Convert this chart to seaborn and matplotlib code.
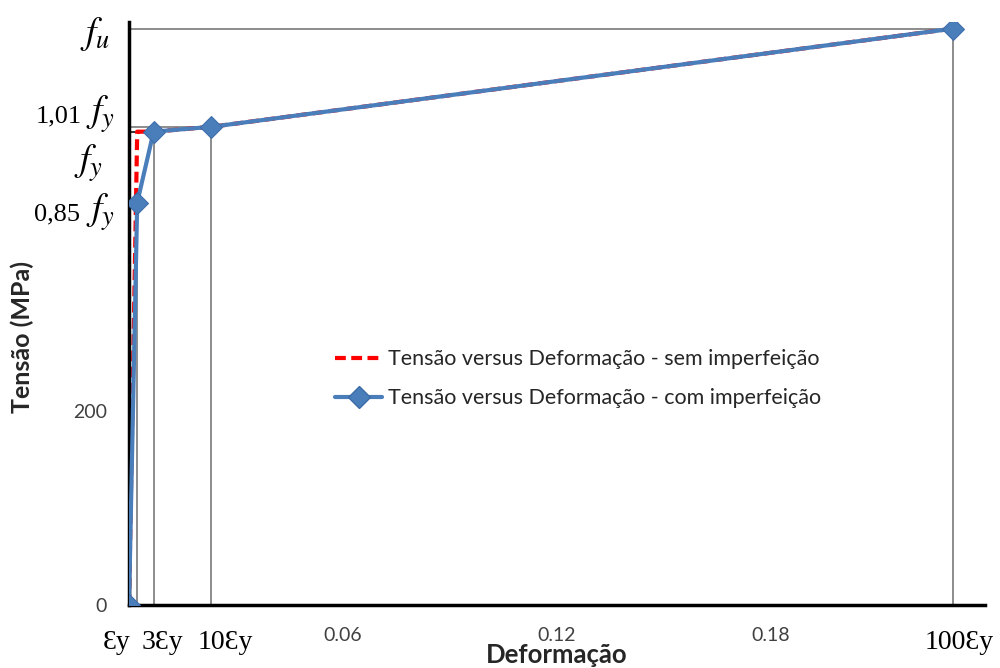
import matplotlib
matplotlib.use("Agg")
import matplotlib.pyplot as plt
import matplotlib.transforms as mtransforms
from matplotlib.lines import Line2D
import seaborn as sns
import pandas as pd

# Dados (deformação adimensional, tensão em MPa)
deformacao = [0.0, 0.0023, 0.0069, 0.0231, 0.231]
tensao_sem = [0.0, 487, 487, 492, 593]
tensao_com = [0.0, 414, 487, 492, 593]

serie_sem = "Tensão versus Deformação - sem imperfeição"
serie_com = "Tensão versus Deformação - com imperfeição"

x_ticks = [0.06, 0.12, 0.18]
x_tick_labels = ["0.06", "0.12", "0.18"]
y_ticks = [0, 200, 400, 600]
y_tick_labels = ["0", "200", "", ""]

# rótulos especiais dos eixos (no lugar de 0 / 400 / 600 etc.)
rotulos_x = ["Ɛy", "3Ɛy", "10Ɛy", "100Ɛy"]
rotulos_x_pos = [-0.0034, 0.0094, 0.0269, 0.2327]
rotulos_y_num = ["", "1,01", "", "0,85"]
rotulos_y_f = [r"$f_u$", r"$f_y$", r"$f_y$", r"$f_y$"]
rotulos_y_pos = [588, 505, 455, 404]
rotulos_y_dx = [-0.0222, -0.0164, -0.0304, -0.0164]
rotulos_y_num_dx = [0, -0.0549, 0, -0.0572]

sns.set_style("white")
plt.rcParams["font.family"] = ["Lato", "DejaVu Sans"]
plt.rcParams["mathtext.fontset"] = "stix"
serif = ["Liberation Serif", "DejaVu Serif"]

df = pd.DataFrame({"x": deformacao, "sem": tensao_sem, "com": tensao_com})

fig = plt.figure(figsize=(10, 6.68), dpi=100)
ax = fig.add_axes([0.129, 0.0943, 0.856, 0.873])

cinza = "#6e6e6e"
azul = "#4a7ebb"
vermelho = "#ff0000"
tracejado = (0, (2.6, 1.3))

# linhas de referência
ref_lw = 1.1
for xv, yv in zip(deformacao[1:], tensao_com[1:]):
    ax.plot([xv, xv], [0, yv], color=cinza, lw=ref_lw, zorder=1)
ax.plot([0, deformacao[2]], [tensao_sem[2], tensao_sem[2]], color="#333333", lw=1.4, zorder=1)
ax.plot([0, deformacao[3]], [tensao_com[3], tensao_com[3]], color=cinza, lw=ref_lw, zorder=1)
ax.plot([0, deformacao[4]], [tensao_com[4], tensao_com[4]], color=cinza, lw=ref_lw, zorder=1)

sns.lineplot(data=df, x="x", y="sem", ax=ax, color=vermelho, lw=3,
             linestyle=tracejado, sort=False, zorder=2)
sns.lineplot(data=df, x="x", y="com", ax=ax, color=azul, lw=3,
             marker="D", markersize=11, markeredgecolor="#3c6ca8", sort=False, zorder=3)

ax.set_xlim(0, 0.24)
ax.set_ylim(0, 600)
ax.set_xticks(x_ticks)
ax.set_xticklabels(x_tick_labels, fontsize=14, color="#404040")
ax.set_yticks(y_ticks)
ax.set_yticklabels(y_tick_labels, fontsize=14, color="#404040")
ax.tick_params(axis="both", direction="out", length=6, width=2, color="black")
ax.tick_params(axis="x", pad=10)
ax.tick_params(axis="y", pad=10)

for s in ["top", "right"]:
    ax.spines[s].set_visible(False)
for s in ["left", "bottom"]:
    ax.spines[s].set_linewidth(2.5)
    ax.spines[s].set_color("black")

tx = mtransforms.blended_transform_factory(ax.transData, ax.transAxes)
for lab, xp in zip(rotulos_x, rotulos_x_pos):
    ax.text(xp, -0.065, lab, transform=tx, ha="center", va="center",
            fontsize=20, family=serif, color="black")

ty = mtransforms.blended_transform_factory(ax.transAxes, ax.transData)
for num, lab, yp, dx, ndx in zip(rotulos_y_num, rotulos_y_f, rotulos_y_pos,
                                 rotulos_y_dx, rotulos_y_num_dx):
    ax.text(dx, yp, lab, transform=ty, ha="right", va="center", fontsize=27, color="black")
    if num:
        ax.text(ndx, yp - 2, num, transform=ty, ha="right", va="center",
                fontsize=19, family=serif, color="black")

ax.set_xlabel("")
ax.set_ylabel("")
ax.text(0.5, -0.1, "Deformação", transform=ax.transAxes, ha="center", va="baseline",
        fontsize=18.5, fontweight="bold")
ax.text(-0.125, 0.46, "Tensão (MPa)", transform=ax.transAxes, ha="center", va="center",
        rotation=90, fontsize=18, fontweight="bold")

handles = [
    Line2D([], [], color=vermelho, lw=3, linestyle=tracejado),
    Line2D([], [], color=azul, lw=3, marker="D", markersize=11, markeredgecolor="#3c6ca8"),
]
ax.legend(handles, [serie_sem, serie_com], loc="center left", bbox_to_anchor=(0.2407, 0.388),
          frameon=False, fontsize=15.5, handlelength=2.2, handletextpad=0.25, labelspacing=0.9,
          borderpad=0, borderaxespad=0)

fig.savefig("out.png", dpi=100)
